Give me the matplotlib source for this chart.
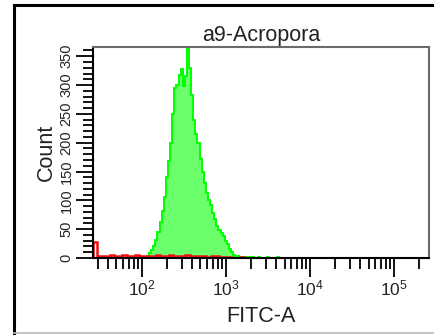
import numpy as np
import matplotlib
matplotlib.use("Agg")
import matplotlib.pyplot as plt
from matplotlib.lines import Line2D
from matplotlib.ticker import LogLocator, FixedLocator, MultipleLocator, NullFormatter

plt.rcParams["font.family"] = ["Liberation Sans", "DejaVu Sans"]
plt.rcParams["mathtext.default"] = "regular"

title = "a9-Acropora"
x_label = "FITC-A"
y_label = "Count"

# Sample histogram: bins of 0.025 decade starting at 10^2.0375
sample_log_start = 2.0375
sample_log_step = 0.025
sample_counts = [
    1, 3, 8, 14, 20, 32, 45, 62, 82, 106,
    140, 168, 200, 250, 295, 300, 318, 328, 298, 315,
    370, 330, 282, 240, 215, 200, 172, 150, 130, 112,
    100, 92, 78, 68, 55, 48, 43, 38, 30, 24,
    15, 10, 6, 4, 3, 2, 2, 1, 1, 1,
    0, 1, 0, 0, 1, 0, 0, 0, 1, 0,
    0, 0, 0, 1, 0, 0, 0, 0, 0, 0,
]

# Unstained control histogram: bins of 0.05 decade starting at 10^1.42
control_log_start = 1.42
control_log_step = 0.05
control_counts = [
    28, 3, 4, 3, 5, 3, 4, 6, 3, 4,
    5, 3, 4, 3, 4, 5, 3, 4, 6, 3,
    4, 3, 5, 4, 3, 4, 3, 2, 3, 4,
    2, 1, 1, 0, 0, 2, 0, 0, 0, 0,
    0, 0, 0, 0, 0, 0, 0, 0,
]

x_min, x_max = 10 ** 1.42, 262144
y_max = 366
y_ticks = [0, 50, 100, 150, 200, 250, 300, 350]
x_tick_decades = [100, 1000, 10000, 100000]

fig = plt.figure(figsize=(4.34, 3.36), dpi=100)
ax = fig.add_axes([93 / 434, 1 - 258 / 336, 336 / 434, 211 / 336])

s_edges = 10 ** (sample_log_start + sample_log_step * np.arange(len(sample_counts) + 1))
c_edges = 10 ** (control_log_start + control_log_step * np.arange(len(control_counts) + 1))

ax.stairs(sample_counts, s_edges, fill=True, color="#6bff6b", zorder=1)
ax.stairs(sample_counts, s_edges, color="#00ff00", linewidth=1.4, zorder=2)
ax.stairs(control_counts, c_edges, color="#ee1111", linewidth=1.8, zorder=3)

ax.set_xscale("log")
ax.set_xlim(x_min, x_max)
ax.set_ylim(0, y_max)

ax.xaxis.set_major_locator(FixedLocator(x_tick_decades))
ax.xaxis.set_minor_locator(LogLocator(base=10, subs=np.arange(2, 10), numticks=20))
ax.xaxis.set_minor_formatter(NullFormatter())
ax.set_xticklabels([r"$10^{%d}$" % int(np.log10(v)) for v in x_tick_decades])

ax.yaxis.set_major_locator(FixedLocator(y_ticks))
ax.yaxis.set_minor_locator(MultipleLocator(10))
ax.set_yticklabels([str(v) for v in y_ticks], rotation=90, va="center")

ax.tick_params(axis="x", which="major", direction="out", length=14, width=1.3,
               labelsize=12.5, pad=1, colors="#000000", labelcolor="#222222")
ax.tick_params(axis="x", which="minor", direction="out", length=8, width=1.3, colors="#000000")
ax.tick_params(axis="y", which="major", direction="out", length=12, width=1.3,
               labelsize=10.5, pad=2, colors="#000000", labelcolor="#222222")
ax.tick_params(axis="y", which="minor", direction="out", length=7, width=1.3, colors="#000000")

for side in ("left", "bottom"):
    ax.spines[side].set_color("#000000")
    ax.spines[side].set_linewidth(1.5)
for side in ("top", "right"):
    ax.spines[side].set_color("#6a6a6a")
    ax.spines[side].set_linewidth(1.5)
for sp in ax.spines.values():
    sp.set_zorder(4)

ax.set_title(title, fontsize=15.5, color="#222222", pad=4)
ax.set_xlabel(x_label, fontsize=15.5, color="#222222", labelpad=5)
ax.set_ylabel(y_label, fontsize=15.5, color="#222222", labelpad=2)

# Outer panel frame
W, H = 434, 336
fig.add_artist(Line2D([14 / W, 14 / W], [1 - 5 / H, 1 - 333 / H], color="black", linewidth=2.2))
fig.add_artist(Line2D([14 / W, 1.0], [1 - 5 / H, 1 - 5 / H], color="black", linewidth=2.2))
fig.add_artist(Line2D([14 / W, 1.0], [1 - 333 / H, 1 - 333 / H], color="#bbbbbb", linewidth=1.2))

fig.savefig("out.png", dpi=100)
